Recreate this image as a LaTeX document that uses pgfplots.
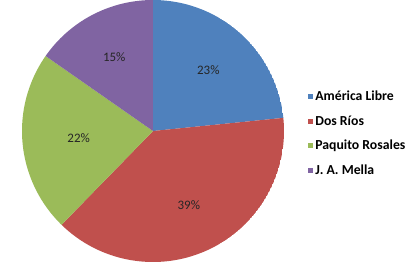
\documentclass[border=0pt]{standalone}
\usepackage{fontspec}
\setmainfont{Carlito}
\usepackage{pgfplots}
\usepackage{pgfplotstable}
\usepgfplotslibrary{polar}
\pgfplotsset{compat=1.18}
\definecolor{cA}{HTML}{4F81BD}
\definecolor{cB}{HTML}{C0504D}
\definecolor{cC}{HTML}{9BBB59}
\definecolor{cD}{HTML}{8064A2}
\pgfplotstableread{
id value
0 23.4
1 38.9
2 22.4
3 15.3
}\piedata
\begin{document}
\begin{tikzpicture}[x=1bp,y=1bp]
\useasboundingbox (-153,-135) rectangle (263,131);
\pgfplotstablegetelem{0}{value}\of\piedata \let\vA\pgfplotsretval
\pgfplotstablegetelem{1}{value}\of\piedata \let\vB\pgfplotsretval
\pgfplotstablegetelem{2}{value}\of\piedata \let\vC\pgfplotsretval
\pgfplotstablegetelem{3}{value}\of\piedata \let\vD\pgfplotsretval
\pgfmathsetmacro{\aA}{90}
\pgfmathsetmacro{\aB}{\aA-3.6*\vA}
\pgfmathsetmacro{\aC}{\aB-3.6*\vB}
\pgfmathsetmacro{\aD}{\aC-3.6*\vC}
\pgfmathsetmacro{\aE}{\aD-3.6*\vD}
\pgfmathsetmacro{\mA}{(\aA+\aB)/2}
\pgfmathsetmacro{\mB}{(\aB+\aC)/2}
\pgfmathsetmacro{\mC}{(\aC+\aD)/2}
\pgfmathsetmacro{\mD}{(\aD+\aE)/2}
\begin{polaraxis}[
  hide axis, scale only axis,
  width=262bp, height=262bp,
  ymin=0, ymax=1,
  at={(0,0)}, anchor=origin,
  legend style={at={(1.08,0.668)}, anchor=north west, draw=none, fill=none,
    font=\fontsize{13.8}{15}\selectfont\bfseries, row sep=9.4bp,
    cells={anchor=west}},
  legend image code/.code={\fill[#1] (0bp,-2.6bp) rectangle (5.2bp,2.6bp);},
]
\addplot[fill=cA, draw=none, domain=\aB:\aA, samples=80] {1} -- (axis cs:0,0) -- cycle;
\addlegendentry{América Libre}
\addplot[fill=cB, draw=none, domain=\aC:\aB, samples=100] {1} -- (axis cs:0,0) -- cycle;
\addlegendentry{Dos Ríos}
\addplot[fill=cC, draw=none, domain=\aD:\aC, samples=80] {1} -- (axis cs:0,0) -- cycle;
\addlegendentry{Paquito Rosales}
\addplot[fill=cD, draw=none, domain=\aE:\aD, samples=60] {1} -- (axis cs:0,0) -- cycle;
\addlegendentry{J. A. Mella}
\node[font=\fontsize{13}{15}\selectfont, text=black!85] at (axis cs:\mA,0.63) {\pgfmathprintnumber[fixed,precision=0,assume math mode=true]{\vA}\%};
\node[font=\fontsize{13}{15}\selectfont, text=black!85] at (axis cs:\mB,0.63) {\pgfmathprintnumber[fixed,precision=0,assume math mode=true]{\vB}\%};
\node[font=\fontsize{13}{15}\selectfont, text=black!85] at (axis cs:\mC,0.57) {\pgfmathprintnumber[fixed,precision=0,assume math mode=true]{\vC}\%};
\node[font=\fontsize{13}{15}\selectfont, text=black!85] at (axis cs:\mD,0.64) {\pgfmathprintnumber[fixed,precision=0,assume math mode=true]{\vD}\%};
\end{polaraxis}
\end{tikzpicture}
\end{document}
